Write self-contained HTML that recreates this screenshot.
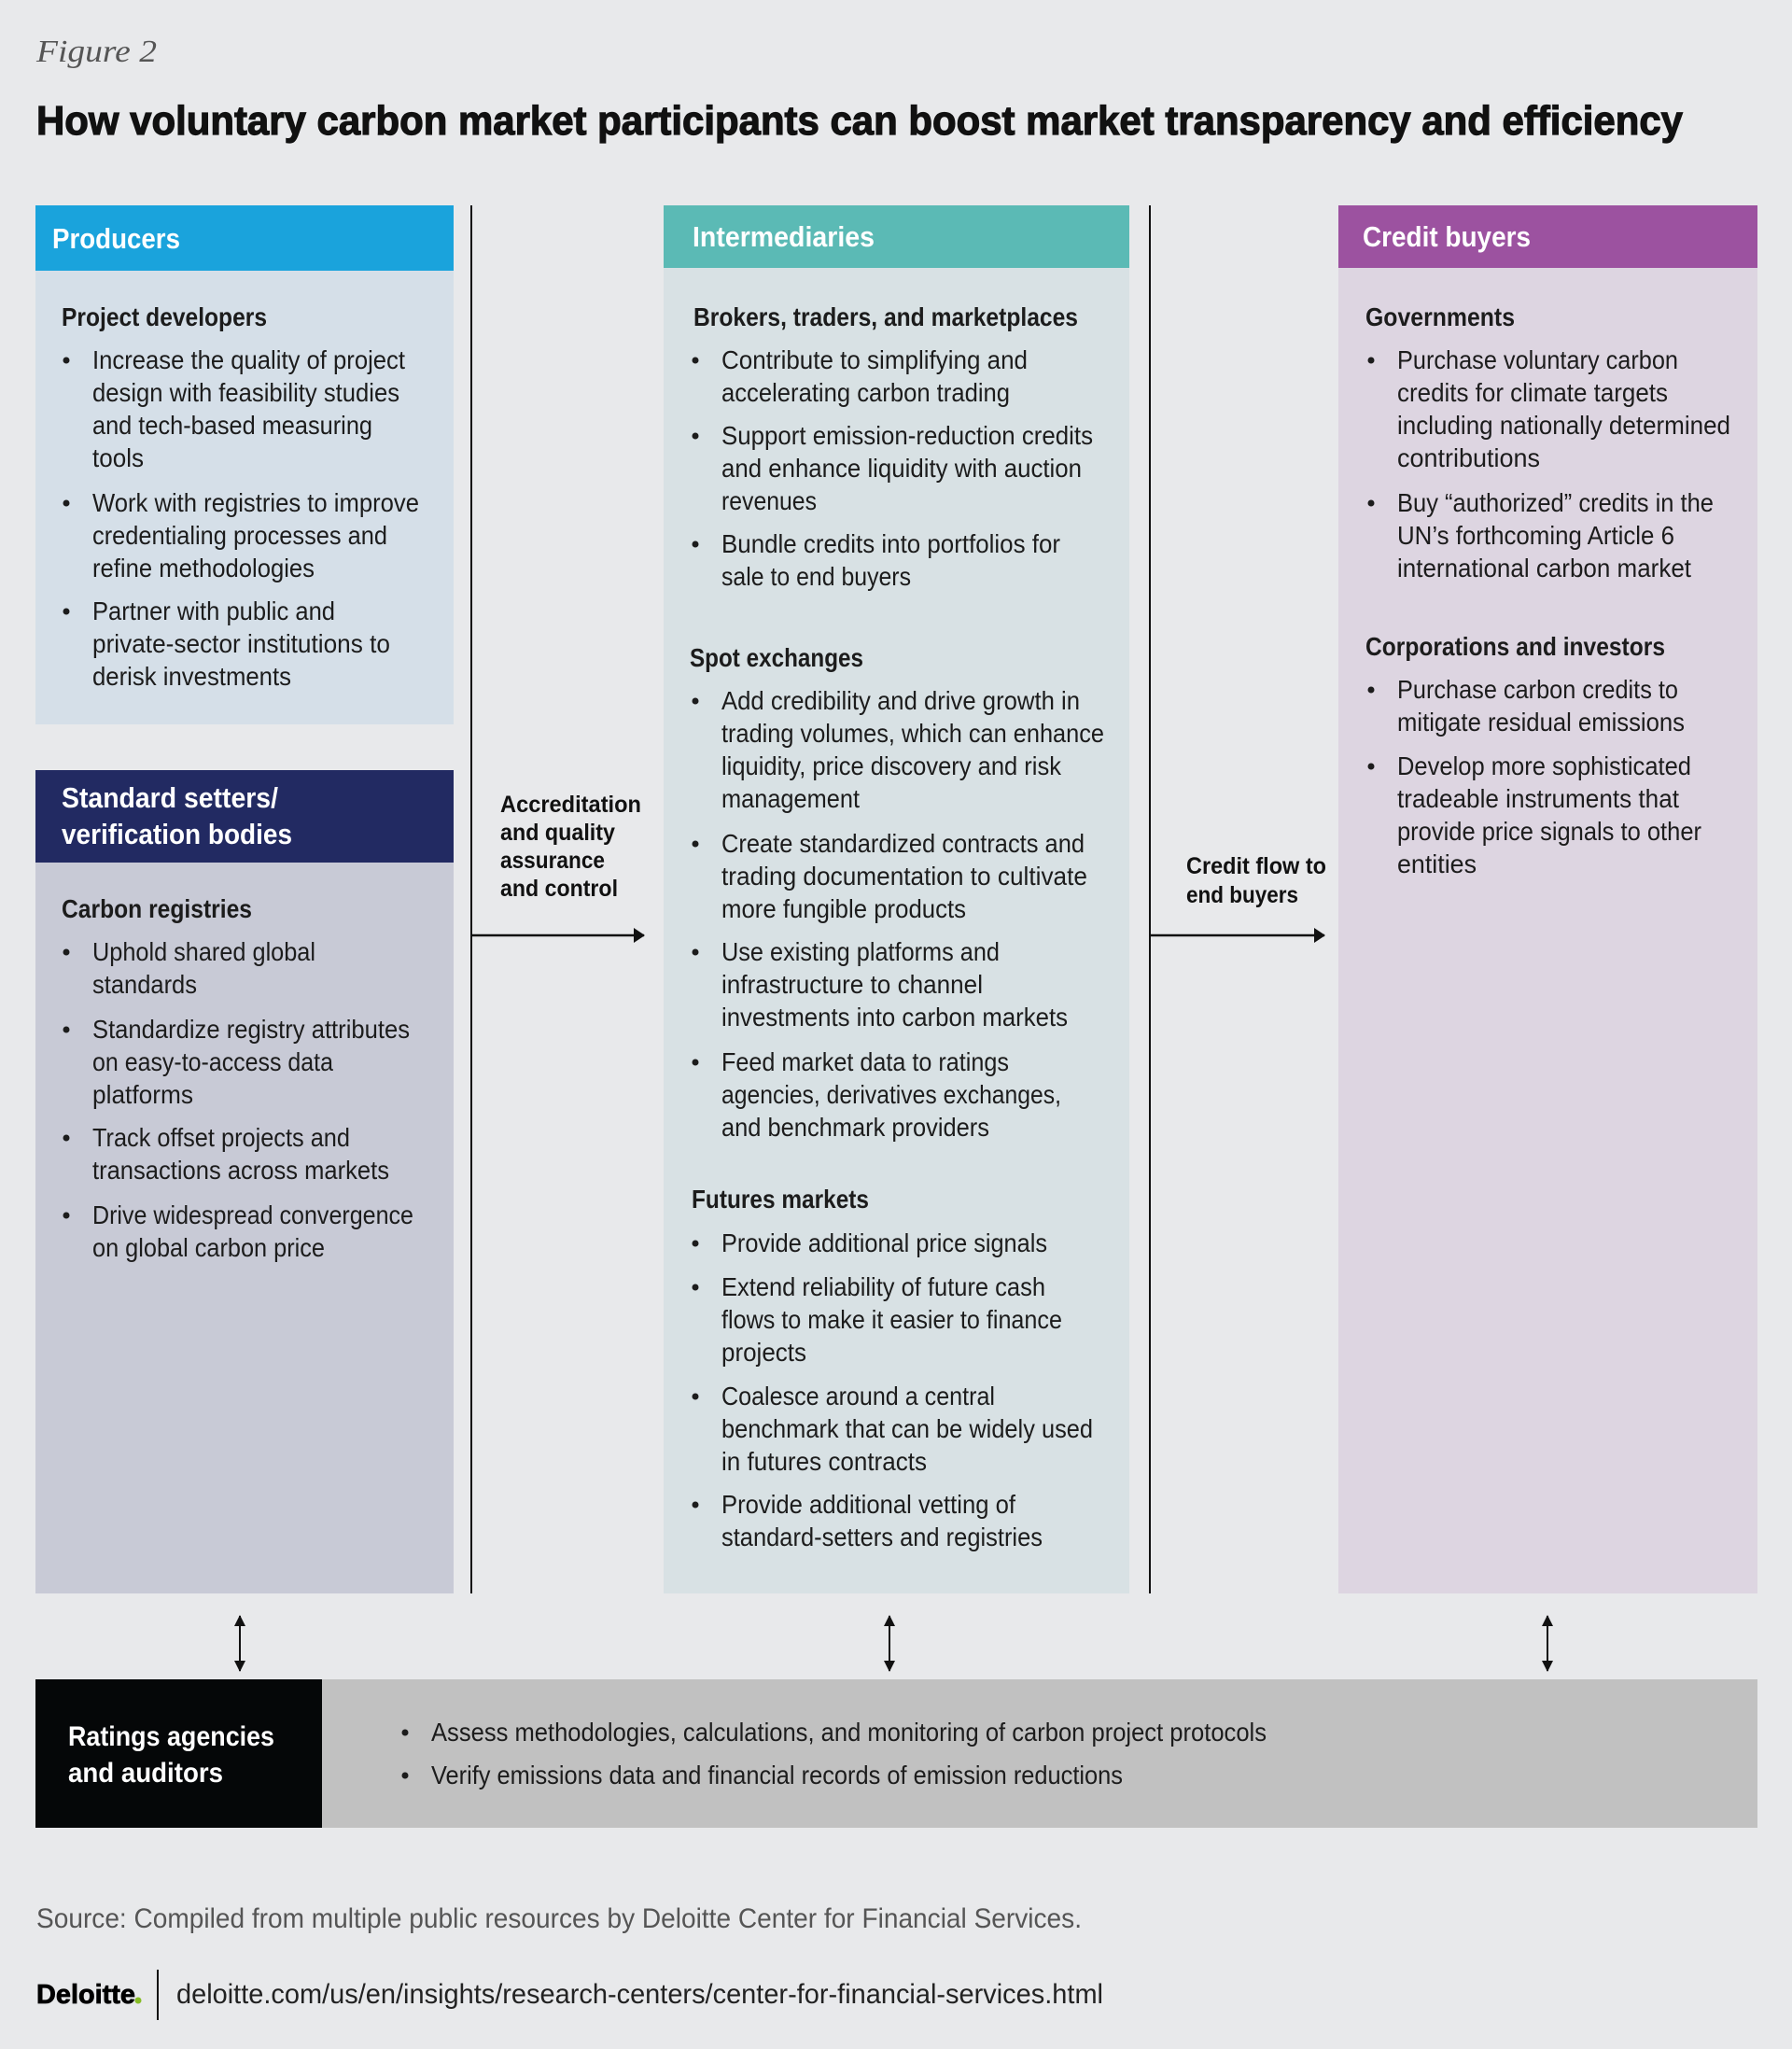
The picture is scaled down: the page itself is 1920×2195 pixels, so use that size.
<!DOCTYPE html>
<html><head><meta charset="utf-8"><style>
html,body{margin:0;padding:0;background:#e8e9eb;}
svg{display:block}
text{font-family:"Liberation Sans",sans-serif;}
.b{font-size:28px;fill:#1c1c1c;}
.h{font-size:28px;font-weight:bold;fill:#1c1c1c;}
.w{font-size:31px;font-weight:bold;fill:#fff;}
.lab{font-size:25px;font-weight:bold;fill:#111;}
circle{r:3.5}
</style></head><body>
<svg width="1920" height="2195" viewBox="0 0 1920 2195" xmlns="http://www.w3.org/2000/svg">
<defs><marker id="ah" markerWidth="12" markerHeight="16" refX="11" refY="8" orient="auto" markerUnits="userSpaceOnUse"><path d="M0,0 L12,8 L0,16 z" fill="#111"/></marker>
<marker id="as" markerWidth="12" markerHeight="12" refX="11" refY="6" orient="auto-start-reverse" markerUnits="userSpaceOnUse"><path d="M0,0 L12,6 L0,12 z" fill="#111"/></marker></defs>
<rect width="1920" height="2195" fill="#e8e9eb"/>
<text x="39" y="66" font-style="italic" font-size="34" fill="#555" textLength="129" lengthAdjust="spacingAndGlyphs" style="font-family:'Liberation Serif',serif">Figure 2</text>
<text x="39" y="144" font-size="44" font-weight="bold" fill="#111" stroke="#111" stroke-width="1.2" textLength="1764" lengthAdjust="spacingAndGlyphs">How voluntary carbon market participants can boost market transparency and efficiency</text>

<!-- Producers -->
<rect x="38" y="220" width="448" height="70" fill="#1aa3dc"/>
<rect x="38" y="290" width="448" height="486" fill="#d5dfe8"/>
<text class="w" x="56" y="266" textLength="137" lengthAdjust="spacingAndGlyphs">Producers</text>
<text class="h" x="66" y="349" textLength="220" lengthAdjust="spacingAndGlyphs">Project developers</text>
<g class="b">
<text x="99" y="395" textLength="335" lengthAdjust="spacingAndGlyphs">Increase the quality of project</text>
<text x="99" y="430" textLength="329" lengthAdjust="spacingAndGlyphs">design with feasibility studies</text>
<text x="99" y="465" textLength="300" lengthAdjust="spacingAndGlyphs">and tech-based measuring</text>
<text x="99" y="500" textLength="55" lengthAdjust="spacingAndGlyphs">tools</text>
<text x="99" y="548" textLength="350" lengthAdjust="spacingAndGlyphs">Work with registries to improve</text>
<text x="99" y="583" textLength="316" lengthAdjust="spacingAndGlyphs">credentialing processes and</text>
<text x="99" y="618" textLength="238" lengthAdjust="spacingAndGlyphs">refine methodologies</text>
<text x="99" y="664" textLength="260" lengthAdjust="spacingAndGlyphs">Partner with public and</text>
<text x="99" y="699" textLength="319" lengthAdjust="spacingAndGlyphs">private-sector institutions to</text>
<text x="99" y="734" textLength="213" lengthAdjust="spacingAndGlyphs">derisk investments</text>
</g>
<g fill="#1c1c1c"><circle cx="71" cy="386" r="3.5"/><circle cx="71" cy="539" r="3.5"/><circle cx="71" cy="655" r="3.5"/></g>

<!-- Standard setters -->
<rect x="38" y="825" width="448" height="99" fill="#222a62"/>
<rect x="38" y="924" width="448" height="783" fill="#c8cad6"/>
<text class="w" x="66" y="865" textLength="232" lengthAdjust="spacingAndGlyphs">Standard setters/</text>
<text class="w" x="66" y="904" textLength="247" lengthAdjust="spacingAndGlyphs">verification bodies</text>
<text class="h" x="66" y="983" textLength="204" lengthAdjust="spacingAndGlyphs">Carbon registries</text>
<g class="b">
<text x="99" y="1029" textLength="239" lengthAdjust="spacingAndGlyphs">Uphold shared global</text>
<text x="99" y="1064" textLength="112" lengthAdjust="spacingAndGlyphs">standards</text>
<text x="99" y="1112" textLength="340" lengthAdjust="spacingAndGlyphs">Standardize registry attributes</text>
<text x="99" y="1147" textLength="258" lengthAdjust="spacingAndGlyphs">on easy-to-access data</text>
<text x="99" y="1182" textLength="108" lengthAdjust="spacingAndGlyphs">platforms</text>
<text x="99" y="1228" textLength="276" lengthAdjust="spacingAndGlyphs">Track offset projects and</text>
<text x="99" y="1263" textLength="318" lengthAdjust="spacingAndGlyphs">transactions across markets</text>
<text x="99" y="1311" textLength="344" lengthAdjust="spacingAndGlyphs">Drive widespread convergence</text>
<text x="99" y="1346" textLength="249" lengthAdjust="spacingAndGlyphs">on global carbon price</text>
</g>
<g fill="#1c1c1c"><circle cx="71" cy="1020" r="3.5"/><circle cx="71" cy="1103" r="3.5"/><circle cx="71" cy="1219" r="3.5"/><circle cx="71" cy="1302" r="3.5"/></g>

<!-- connector 1 -->
<line x1="505" y1="220" x2="505" y2="1707" stroke="#111" stroke-width="2"/>
<g class="lab">
<text x="536" y="870" textLength="151" lengthAdjust="spacingAndGlyphs">Accreditation</text>
<text x="536" y="900" textLength="123" lengthAdjust="spacingAndGlyphs">and quality</text>
<text x="536" y="930" textLength="112" lengthAdjust="spacingAndGlyphs">assurance</text>
<text x="536" y="960" textLength="126" lengthAdjust="spacingAndGlyphs">and control</text>
</g>
<line x1="505" y1="1002" x2="690" y2="1002" stroke="#111" stroke-width="2.5" marker-end="url(#ah)"/>

<!-- Intermediaries -->
<rect x="711" y="220" width="499" height="67" fill="#5bbab5"/>
<rect x="711" y="287" width="499" height="1420" fill="#d8e1e4"/>
<text class="w" x="742" y="264" textLength="195" lengthAdjust="spacingAndGlyphs">Intermediaries</text>
<text class="h" x="743" y="349" textLength="412" lengthAdjust="spacingAndGlyphs">Brokers, traders, and marketplaces</text>
<g class="b">
<text x="773" y="395" textLength="328" lengthAdjust="spacingAndGlyphs">Contribute to simplifying and</text>
<text x="773" y="430" textLength="309" lengthAdjust="spacingAndGlyphs">accelerating carbon trading</text>
<text x="773" y="476" textLength="398" lengthAdjust="spacingAndGlyphs">Support emission-reduction credits</text>
<text x="773" y="511" textLength="386" lengthAdjust="spacingAndGlyphs">and enhance liquidity with auction</text>
<text x="773" y="546" textLength="102" lengthAdjust="spacingAndGlyphs">revenues</text>
<text x="773" y="592" textLength="363" lengthAdjust="spacingAndGlyphs">Bundle credits into portfolios for</text>
<text x="773" y="627" textLength="203" lengthAdjust="spacingAndGlyphs">sale to end buyers</text>
</g>
<text class="h" x="739" y="714" textLength="186" lengthAdjust="spacingAndGlyphs">Spot exchanges</text>
<g class="b">
<text x="773" y="760" textLength="384" lengthAdjust="spacingAndGlyphs">Add credibility and drive growth in</text>
<text x="773" y="795" textLength="410" lengthAdjust="spacingAndGlyphs">trading volumes, which can enhance</text>
<text x="773" y="830" textLength="364" lengthAdjust="spacingAndGlyphs">liquidity, price discovery and risk</text>
<text x="773" y="865" textLength="148" lengthAdjust="spacingAndGlyphs">management</text>
<text x="773" y="913" textLength="389" lengthAdjust="spacingAndGlyphs">Create standardized contracts and</text>
<text x="773" y="948" textLength="392" lengthAdjust="spacingAndGlyphs">trading documentation to cultivate</text>
<text x="773" y="983" textLength="262" lengthAdjust="spacingAndGlyphs">more fungible products</text>
<text x="773" y="1029" textLength="298" lengthAdjust="spacingAndGlyphs">Use existing platforms and</text>
<text x="773" y="1064" textLength="280" lengthAdjust="spacingAndGlyphs">infrastructure to channel</text>
<text x="773" y="1099" textLength="371" lengthAdjust="spacingAndGlyphs">investments into carbon markets</text>
<text x="773" y="1147" textLength="308" lengthAdjust="spacingAndGlyphs">Feed market data to ratings</text>
<text x="773" y="1182" textLength="364" lengthAdjust="spacingAndGlyphs">agencies, derivatives exchanges,</text>
<text x="773" y="1217" textLength="287" lengthAdjust="spacingAndGlyphs">and benchmark providers</text>
</g>
<text class="h" x="741" y="1294" textLength="190" lengthAdjust="spacingAndGlyphs">Futures markets</text>
<g class="b">
<text x="773" y="1341" textLength="349" lengthAdjust="spacingAndGlyphs">Provide additional price signals</text>
<text x="773" y="1388" textLength="347" lengthAdjust="spacingAndGlyphs">Extend reliability of future cash</text>
<text x="773" y="1423" textLength="365" lengthAdjust="spacingAndGlyphs">flows to make it easier to finance</text>
<text x="773" y="1458" textLength="91" lengthAdjust="spacingAndGlyphs">projects</text>
<text x="773" y="1505" textLength="293" lengthAdjust="spacingAndGlyphs">Coalesce around a central</text>
<text x="773" y="1540" textLength="398" lengthAdjust="spacingAndGlyphs">benchmark that can be widely used</text>
<text x="773" y="1575" textLength="220" lengthAdjust="spacingAndGlyphs">in futures contracts</text>
<text x="773" y="1621" textLength="315" lengthAdjust="spacingAndGlyphs">Provide additional vetting of</text>
<text x="773" y="1656" textLength="344" lengthAdjust="spacingAndGlyphs">standard-setters and registries</text>
</g>
<g fill="#1c1c1c"><circle cx="745" cy="386" r="3.5"/><circle cx="745" cy="467" r="3.5"/><circle cx="745" cy="583" r="3.5"/>
<circle cx="745" cy="751" r="3.5"/><circle cx="745" cy="904" r="3.5"/><circle cx="745" cy="1020" r="3.5"/><circle cx="745" cy="1138" r="3.5"/>
<circle cx="745" cy="1332" r="3.5"/><circle cx="745" cy="1379" r="3.5"/><circle cx="745" cy="1496" r="3.5"/><circle cx="745" cy="1612" r="3.5"/></g>

<!-- connector 2 -->
<line x1="1232" y1="220" x2="1232" y2="1707" stroke="#111" stroke-width="2"/>
<g class="lab">
<text x="1271" y="936" textLength="150" lengthAdjust="spacingAndGlyphs">Credit flow to</text>
<text x="1271" y="967" textLength="120" lengthAdjust="spacingAndGlyphs">end buyers</text>
</g>
<line x1="1233" y1="1002" x2="1419" y2="1002" stroke="#111" stroke-width="2.5" marker-end="url(#ah)"/>

<!-- Credit buyers -->
<rect x="1434" y="220" width="449" height="67" fill="#9c52a0"/>
<rect x="1434" y="287" width="449" height="1420" fill="#ddd5e1"/>
<text class="w" x="1460" y="264" textLength="180" lengthAdjust="spacingAndGlyphs">Credit buyers</text>
<text class="h" x="1463" y="349" textLength="160" lengthAdjust="spacingAndGlyphs">Governments</text>
<g class="b">
<text x="1497" y="395" textLength="301" lengthAdjust="spacingAndGlyphs">Purchase voluntary carbon</text>
<text x="1497" y="430" textLength="290" lengthAdjust="spacingAndGlyphs">credits for climate targets</text>
<text x="1497" y="465" textLength="357" lengthAdjust="spacingAndGlyphs">including nationally determined</text>
<text x="1497" y="500" textLength="153" lengthAdjust="spacingAndGlyphs">contributions</text>
<text x="1497" y="548" textLength="339" lengthAdjust="spacingAndGlyphs">Buy “authorized” credits in the</text>
<text x="1497" y="583" textLength="297" lengthAdjust="spacingAndGlyphs">UN’s forthcoming Article 6</text>
<text x="1497" y="618" textLength="315" lengthAdjust="spacingAndGlyphs">international carbon market</text>
</g>
<text class="h" x="1463" y="702" textLength="321" lengthAdjust="spacingAndGlyphs">Corporations and investors</text>
<g class="b">
<text x="1497" y="748" textLength="301" lengthAdjust="spacingAndGlyphs">Purchase carbon credits to</text>
<text x="1497" y="783" textLength="308" lengthAdjust="spacingAndGlyphs">mitigate residual emissions</text>
<text x="1497" y="830" textLength="315" lengthAdjust="spacingAndGlyphs">Develop more sophisticated</text>
<text x="1497" y="865" textLength="302" lengthAdjust="spacingAndGlyphs">tradeable instruments that</text>
<text x="1497" y="900" textLength="326" lengthAdjust="spacingAndGlyphs">provide price signals to other</text>
<text x="1497" y="935" textLength="85" lengthAdjust="spacingAndGlyphs">entities</text>
</g>
<g fill="#1c1c1c"><circle cx="1469" cy="386" r="3.5"/><circle cx="1469" cy="539" r="3.5"/><circle cx="1469" cy="739" r="3.5"/><circle cx="1469" cy="821" r="3.5"/></g>

<!-- double arrows -->
<g stroke="#111" stroke-width="2">
<line x1="257" y1="1731" x2="257" y2="1790" marker-start="url(#as)" marker-end="url(#as)"/>
<line x1="953" y1="1731" x2="953" y2="1790" marker-start="url(#as)" marker-end="url(#as)"/>
<line x1="1658" y1="1731" x2="1658" y2="1790" marker-start="url(#as)" marker-end="url(#as)"/>
</g>

<!-- Ratings -->
<rect x="38" y="1799" width="307" height="159" fill="#050708"/>
<rect x="345" y="1799" width="1538" height="159" fill="#c1c1c1"/>
<text class="w" x="73" y="1870" textLength="221" lengthAdjust="spacingAndGlyphs" style="font-size:30px">Ratings agencies</text>
<text class="w" x="73" y="1909" textLength="166" lengthAdjust="spacingAndGlyphs" style="font-size:30px">and auditors</text>
<g class="b">
<text x="462" y="1865" textLength="895" lengthAdjust="spacingAndGlyphs">Assess methodologies, calculations, and monitoring of carbon project protocols</text>
<text x="462" y="1911" textLength="741" lengthAdjust="spacingAndGlyphs">Verify emissions data and financial records of emission reductions</text>
</g>
<g fill="#1c1c1c"><circle cx="434" cy="1856" r="3.5"/><circle cx="434" cy="1902" r="3.5"/></g>

<!-- footer -->
<text x="39" y="2065" font-size="30" fill="#555" textLength="1120" lengthAdjust="spacingAndGlyphs">Source: Compiled from multiple public resources by Deloitte Center for Financial Services.</text>
<text x="39" y="2146" font-size="29" font-weight="bold" fill="#000" stroke="#000" stroke-width="0.8" textLength="106" lengthAdjust="spacingAndGlyphs">Deloitte</text>
<circle cx="148" cy="2143" r="3.5" fill="#86bc25"/>
<line x1="169" y1="2110" x2="169" y2="2164" stroke="#111" stroke-width="2"/>
<text x="189" y="2146" font-size="30" fill="#222" textLength="993" lengthAdjust="spacingAndGlyphs">deloitte.com/us/en/insights/research-centers/center-for-financial-services.html</text>
</svg>
</body></html>
